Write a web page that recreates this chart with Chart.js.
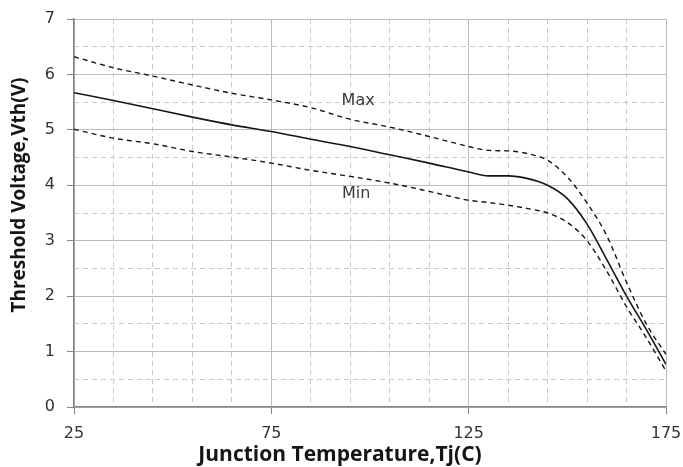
<!DOCTYPE html>
<html>
<head>
<meta charset="utf-8">
<script src="https://cdn.jsdelivr.net/npm/chart.js@4.4.1/dist/chart.umd.min.js"></script>
<style>
  html, body { margin: 0; padding: 0; background: #fff; }
  #wrap { width: 683px; height: 467px; }
</style>
</head>
<body>
<div id="wrap"><canvas id="vth-chart" width="683" height="467"></canvas></div>
<script>
// junction temperature (C) and threshold voltage (V)
const temps  = [25, 35, 45, 55, 65, 75, 85, 95, 105, 115, 125, 130, 135, 140, 145, 150, 155, 160, 165, 170, 175];
const vthMax = [6.32, 6.12, 5.97, 5.81, 5.66, 5.54, 5.40, 5.19, 5.05, 4.88, 4.70, 4.63, 4.62, 4.57, 4.45, 4.15, 3.68, 3.09, 2.25, 1.50, 0.95];
const vthTyp = [5.67, 5.53, 5.38, 5.23, 5.09, 4.97, 4.83, 4.70, 4.55, 4.40, 4.24, 4.17, 4.17, 4.12, 4.00, 3.76, 3.30, 2.66, 2.00, 1.40, 0.77];
const vthMin = [5.01, 4.85, 4.75, 4.61, 4.51, 4.40, 4.27, 4.16, 4.04, 3.89, 3.73, 3.69, 3.64, 3.58, 3.50, 3.33, 3.00, 2.45, 1.81, 1.25, 0.65];

const xTicks = [25, 75, 125, 175];
const yTicks = [0, 1, 2, 3, 4, 5, 6, 7];

const xTitle = 'Junction Temperature,Tj(C)';
const yTitle = 'Threshold Voltage,Vth(V)';

// curve captions, placed in data units
const notes = [
  { text: 'Max', t: 97, v: 5.53 },
  { text: 'Min', t: 96.5, v: 3.84 }
];

const MAJOR = '#bdbdbd';
const MINOR = '#c9c9c9';
const AXIS = '#858585';
const TICK_FONT = { family: 'DejaVu Sans', size: 16 };

function pts(values) {
  return temps.map((t, i) => ({ x: t, y: values[i] }));
}

function line(label, values, dashed) {
  return {
    label,
    data: pts(values),
    borderColor: '#161616',
    borderWidth: dashed ? 1.4 : 1.6,
    borderDash: dashed ? [5, 4] : [],
    pointRadius: 0,
    fill: false,
    cubicInterpolationMode: 'monotone'
  };
}

// captions and axis titles (the titles sit off the plot centre in the original)
const textPlugin = {
  id: 'texts',
  afterDraw(chart) {
    const { ctx, scales: { x, y } } = chart;
    ctx.save();
    ctx.font = '16px "DejaVu Sans"';
    ctx.fillStyle = '#3a3a3a';
    ctx.textAlign = 'center';
    ctx.textBaseline = 'middle';
    notes.forEach(n => ctx.fillText(n.text, x.getPixelForValue(n.t), y.getPixelForValue(n.v)));

    ctx.fillStyle = '#151515';
    ctx.font = 'bold 21px "Open Sans"';
    ctx.fillText(xTitle, 340, 455);

    ctx.translate(20, 195);
    ctx.rotate(-Math.PI / 2);
    ctx.font = 'bold 19px "Open Sans"';
    ctx.fillText(yTitle, 0, 0);
    ctx.restore();
  }
};

new Chart(document.getElementById('vth-chart'), {
  type: 'line',
  data: {
    datasets: [
      line('Max', vthMax, true),
      line('Typ', vthTyp, false),
      line('Min', vthMin, true)
    ]
  },
  options: {
    responsive: false,
    animation: false,
    devicePixelRatio: 1,
    layout: { padding: { top: 19, right: 17, left: 0, bottom: 0 } },
    plugins: { legend: { display: false }, tooltip: { enabled: false } },
    scales: {
      x: {
        type: 'linear',
        position: 'bottom',
        min: xTicks[0],
        max: xTicks[xTicks.length - 1],
        afterBuildTicks: s => { s.ticks = xTicks.map(v => ({ value: v })); },
        ticks: { color: '#333', font: TICK_FONT, padding: 10, maxRotation: 0 },
        grid: { color: MAJOR, tickLength: 7, tickColor: AXIS },
        border: { color: AXIS, width: 1.5 },
        afterFit: s => { s.height = 60; s.paddingLeft = 0; s.paddingRight = 0; }
      },
      xMinor: {
        type: 'linear',
        position: 'bottom',
        min: 25,
        max: 175,
        ticks: { display: false, stepSize: 10 },
        grid: {
          drawTicks: false,
          color: ctx => ((ctx.tick.value - 25) % 50 === 0 ? 'rgba(0,0,0,0)' : MINOR)
        },
        border: { display: false, dash: [5, 4] },
        afterFit: s => { s.height = 0; s.paddingLeft = 0; s.paddingRight = 0; }
      },
      y: {
        type: 'linear',
        position: 'left',
        min: yTicks[0],
        max: yTicks[yTicks.length - 1],
        afterBuildTicks: s => { s.ticks = yTicks.map(v => ({ value: v })); },
        ticks: { color: '#333', font: TICK_FONT, padding: 12 },
        grid: { color: MAJOR, tickLength: 7, tickColor: AXIS },
        border: { color: AXIS, width: 1.5 },
        afterFit: s => { s.width = 74; s.paddingTop = 0; s.paddingBottom = 0; }
      },
      yMinor: {
        type: 'linear',
        position: 'left',
        min: 0,
        max: 7,
        ticks: { display: false, stepSize: 0.5 },
        grid: {
          drawTicks: false,
          color: ctx => (ctx.tick.value % 1 === 0 ? 'rgba(0,0,0,0)' : MINOR)
        },
        border: { display: false, dash: [5, 4] },
        afterFit: s => { s.width = 0; s.paddingTop = 0; s.paddingBottom = 0; }
      }
    }
  },
  plugins: [textPlugin]
});
</script>
</body>
</html>
